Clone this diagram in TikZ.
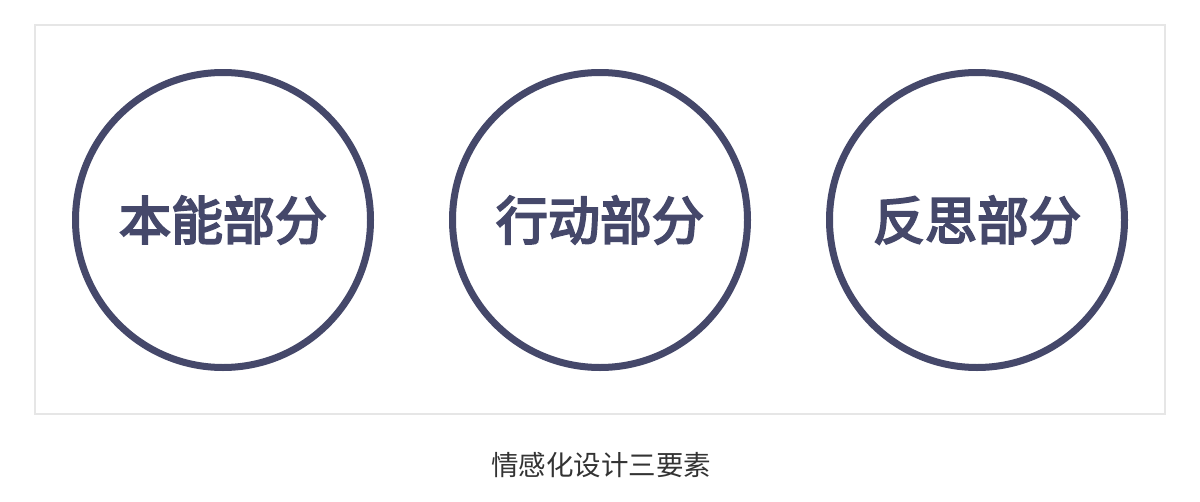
\documentclass[tikz,border=0pt]{standalone}
\usepackage{fontspec}
\newfontfamily\cjk{Noto Sans CJK SC}
\newfontfamily\cjkmed[FakeBold=4]{Noto Sans CJK SC}
\definecolor{navy}{HTML}{45486A}
\definecolor{framegray}{HTML}{E6E6E6}
\definecolor{captxt}{HTML}{333333}
\begin{document}
\begin{tikzpicture}[x=1pt,y=-1pt,
  part/.style={circle,draw=navy,line width=7pt,minimum size=295pt,inner sep=0pt,
    text=navy,font=\cjkmed\fontsize{52}{52}\selectfont},
  captionstyle/.style={text=captxt,font=\cjk\fontsize{27.5}{27.5}\selectfont}]
\useasboundingbox (0,0) rectangle (1200,501);
\fill[white] (0,0) rectangle (1200,501);
\draw[framegray,line width=1.2pt] (35,25) rectangle (1165,414);
\node[part] (a) at (223,220) {本能部分};
\node[part] (b) at (600,220) {行动部分};
\node[part] (c) at (977,220) {反思部分};
\node[captionstyle] (t) at (601,465) {情感化设计三要素};
\end{tikzpicture}
\end{document}
